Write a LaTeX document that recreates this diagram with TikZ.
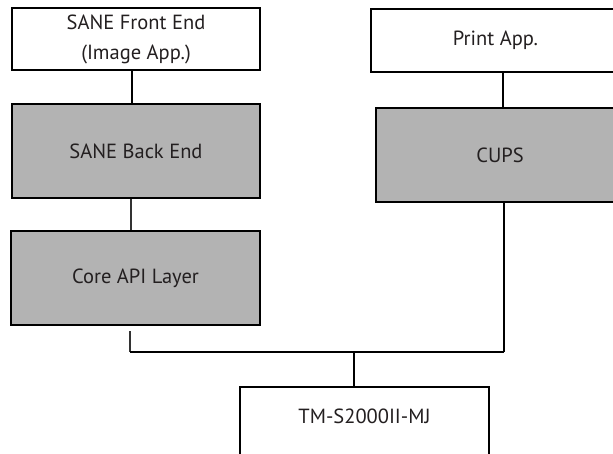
\documentclass[tikz,border=0pt]{standalone}
\usepackage{fontspec}
\setmainfont{PT Sans}
\definecolor{boxgray}{RGB}{179,179,179}
\definecolor{txt}{RGB}{35,31,32}
\begin{document}
\begin{tikzpicture}[x=1pt,y=-1pt,
  box/.style={draw=black,line width=1.8pt,rectangle,inner sep=0pt,text=txt,
    font=\fontsize{20.5}{30}\selectfont,align=center},
  wbox/.style={box,fill=white},
  gbox/.style={box,fill=boxgray},
  link/.style={line width=1.8pt,draw=black},
  thinlink/.style={line width=1.2pt,draw=black!80}]
\useasboundingbox (0,0) rectangle (613,454);
\clip (0,0) rectangle (613,454);
\node[wbox,minimum width=248pt,minimum height=62pt] (fe) at (136,39) {SANE Front End\\(Image App.)};
\node[gbox,minimum width=248pt,minimum height=94pt] (be) at (136,151) {SANE Back End};
\node[gbox,minimum width=249pt,minimum height=94pt] (core) at (135.5,278) {Core API Layer};
\node[wbox,minimum width=249pt,minimum height=63pt] (pa) at (495.5,40.5) {Print App.};
\node[gbox,minimum width=248pt,minimum height=94pt] (cups) at (500,155) {CUPS};
\node[wbox,minimum width=249pt,minimum height=83pt] (tm) at (364.5,428.5) {};
\node[text=txt,font=\fontsize{20.5}{30}\selectfont] (tmt) at (364.5,416) {TM-S2000II-MJ};
\coordinate (jl) at (130,352);
\coordinate (jr) at (504,352);
\coordinate (jm) at (354,352);
\coordinate (cb) at (130,331);
\draw[link] (132,70) -- (132,105);
\draw[thinlink] (be.south -| 131,0) -- (core.north -| 131,0);
\draw[thinlink] (cb) -- (jl);
\draw[link] (jl) -- (jr);
\draw[link] (pa.south -| 503,0) -- (cups.north -| 503,0);
\draw[link] (cups.south -| jr) -- (jr);
\draw[link] (jm) -- (tm.north -| jm);
\end{tikzpicture}
\end{document}
